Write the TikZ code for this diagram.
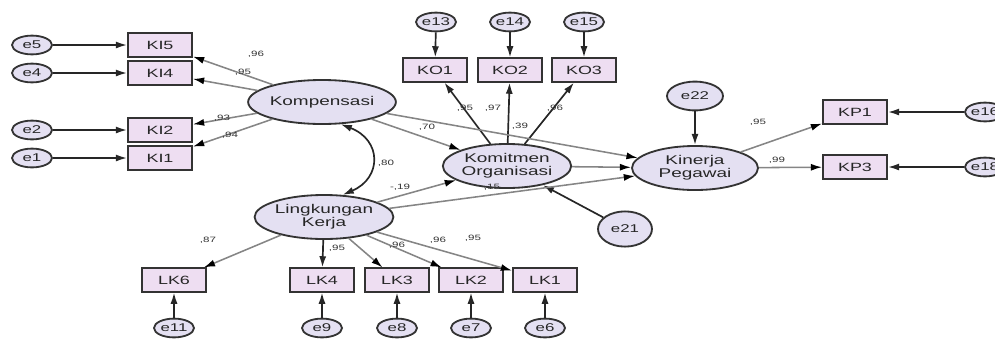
\documentclass[tikz,border=0pt]{standalone}
\usepackage{fontspec}
\newfontfamily\amosfont[FakeStretch=1.5]{Liberation Sans}
\usetikzlibrary{arrows.meta, shapes.geometric}

\definecolor{latfill}{HTML}{E4E0F2}
\definecolor{obsfill}{HTML}{EEDEF2}
\definecolor{edgegray}{HTML}{333333}
\definecolor{pathgray}{HTML}{858585}

\begin{document}
\begin{tikzpicture}[
    x=0.025cm, y=-0.025cm,
    latent/.style={
        ellipse, draw=edgegray, line width=1.3pt, fill=latfill,
        minimum width=3.15cm, minimum height=1.1cm, inner sep=0pt,
        align=center, font=\amosfont\fontsize{9}{9.5}\selectfont, text=black!85,
    },
    indicator/.style={
        rectangle, draw=edgegray, line width=1.3pt, fill=obsfill,
        minimum width=1.6cm, minimum height=0.58cm, inner sep=0pt,
        font=\amosfont\fontsize{8.5}{9}\selectfont, text=black!85,
    },
    errnode/.style={
        ellipse, draw=edgegray, line width=1.3pt, fill=latfill,
        minimum width=1cm, minimum height=0.47cm, inner sep=0pt,
        font=\amosfont\fontsize{8}{9}\selectfont, text=black!85,
    },
    loadlabel/.style={
        font=\amosfont\fontsize{5.5}{5.5}\selectfont, text=black!80, inner sep=0pt,
    },
    errarrow/.style={
        draw=black!85, line width=1.2pt, -{Latex[length=8pt, width=5pt]},
    },
    grayarrow/.style={
        draw=pathgray, line width=1.1pt, -{Latex[length=8pt, width=5pt, color=black]},
    },
]

\useasboundingbox (0, 0) rectangle (995, 343);
\clip (0, 0) rectangle (995, 343);

% --- Latent variables ---
\node[latent] (komp) at (322, 102) {Kompensasi};
\node[latent] (lingk) at (324, 217) {Lingkungan\\Kerja};
\node[latent] (komit) at (507, 166) {Komitmen\\Organisasi};
\node[latent] (kiner) at (695, 168) {Kinerja\\Pegawai};

% --- Kompensasi indicators ---
\node[indicator] (ki5) at (160, 45) {KI5};
\node[indicator] (ki4) at (160, 73) {KI4};
\node[indicator] (ki2) at (160, 130) {KI2};
\node[indicator] (ki1) at (160, 158) {KI1};
\node[errnode] (e5) at (32, 45) {e5};
\node[errnode] (e4) at (32, 73) {e4};
\node[errnode] (e2) at (32, 130) {e2};
\node[errnode] (e1) at (32, 158) {e1};

% --- Komitmen indicators ---
\node[indicator] (ko1) at (435, 70) {KO1};
\node[indicator] (ko2) at (510, 70) {KO2};
\node[indicator] (ko3) at (584, 70) {KO3};
\node[errnode] (e13) at (436, 22) {e13};
\node[errnode] (e14) at (510, 22) {e14};
\node[errnode] (e15) at (584, 22) {e15};

% --- Kinerja indicators ---
\node[indicator] (kp1) at (855, 112) {KP1};
\node[indicator] (kp3) at (855, 167) {KP3};
\node[errnode] (e16) at (985, 112) {e16};
\node[errnode] (e18) at (985, 167) {e18};

% --- Lingkungan indicators ---
\node[indicator] (lk6) at (174, 280) {LK6};
\node[indicator] (lk4) at (322, 280) {LK4};
\node[indicator] (lk3) at (397, 280) {LK3};
\node[indicator] (lk2) at (471, 280) {LK2};
\node[indicator] (lk1) at (545, 280) {LK1};
\node[errnode] (e11) at (174, 328) {e11};
\node[errnode] (e9) at (322, 328) {e9};
\node[errnode] (e8) at (397, 328) {e8};
\node[errnode] (e7) at (471, 328) {e7};
\node[errnode] (e6) at (545, 328) {e6};

% --- Disturbances ---
\node[errnode, minimum width=1.4cm, minimum height=0.72cm] (e22) at (695, 96) {e22};
\node[errnode, minimum width=1.35cm, minimum height=0.88cm] (e21) at (625, 229) {e21};

% --- Error arrows ---
\draw[errarrow] (e5) -- (ki5);
\draw[errarrow] (e4) -- (ki4);
\draw[errarrow] (e2) -- (ki2);
\draw[errarrow] (e1) -- (ki1);
\draw[errarrow] (e13) -- (ko1);
\draw[errarrow] (e14) -- (ko2);
\draw[errarrow] (e15) -- (ko3);
\draw[errarrow] (e16) -- (kp1);
\draw[errarrow] (e18) -- (kp3);
\draw[errarrow] (e11) -- (lk6);
\draw[errarrow] (e9) -- (lk4);
\draw[errarrow] (e8) -- (lk3);
\draw[errarrow] (e7) -- (lk2);
\draw[errarrow] (e6) -- (lk1);
\draw[errarrow] (e22) -- (kiner);
\draw[errarrow] (e21) -- (komit);

% --- Loadings ---
\draw[grayarrow] (komp) -- (ki5);
\draw[grayarrow] (komp) -- (ki4);
\draw[grayarrow] (komp) -- (ki2);
\draw[grayarrow] (komp) -- (ki1);
\draw[errarrow] (komit) -- (ko1);
\draw[errarrow] (komit) -- (ko2);
\draw[errarrow] (komit) -- (ko3);
\draw[grayarrow] (kiner) -- (kp1);
\draw[grayarrow] (kiner) -- (kp3);
\draw[grayarrow] (lingk) -- (lk6);
\draw[errarrow] (lingk) -- (lk4);
\draw[grayarrow] (lingk) -- (lk3);
\draw[grayarrow] (lingk) -- (lk2);
\draw[grayarrow] (lingk) -- (lk1);

% --- Structural paths ---
\draw[grayarrow] (komp) -- (komit);
\draw[grayarrow] (komp) -- (kiner);
\draw[grayarrow] (lingk) -- (komit);
\draw[grayarrow] (lingk) -- (kiner);
\draw[grayarrow] (komit) -- (kiner);
\draw[draw=black!85, line width=1.2pt, {Latex[length=8pt, width=5pt]}-{Latex[length=8pt, width=5pt]}]
    (komp.-50) .. controls (382, 140) and (382, 178) .. (lingk.50);

% --- Estimates ---
\node[loadlabel] (lki5) at (256, 54) {,96};
\node[loadlabel] (lki4) at (243, 72) {,95};
\node[loadlabel] (lki2) at (222, 118) {,93};
\node[loadlabel] (lki1) at (230, 135) {,94};
\node[loadlabel] (lko1) at (465, 108) {,95};
\node[loadlabel] (lko2) at (493, 108) {,97};
\node[loadlabel] (lko3) at (555, 108) {,96};
\node[loadlabel] (lkp1) at (758, 122) {,95};
\node[loadlabel] (lkp3) at (777, 160) {,99};
\node[loadlabel] (llk6) at (208, 240) {,87};
\node[loadlabel] (llk4) at (337, 248) {,95};
\node[loadlabel] (llk3) at (397, 245) {,96};
\node[loadlabel] (llk2) at (438, 240) {,96};
\node[loadlabel] (llk1) at (473, 238) {,95};
\node[loadlabel] (lcov) at (386, 163) {,80};
\node[loadlabel] (lkomit1) at (427, 127) {,70};
\node[loadlabel] (lkiner1) at (520, 126) {,39};
\node[loadlabel] (lkomit2) at (400, 187) {-,19};
\node[loadlabel] (lkiner2) at (492, 187) {,15};

\end{tikzpicture}
\end{document}
